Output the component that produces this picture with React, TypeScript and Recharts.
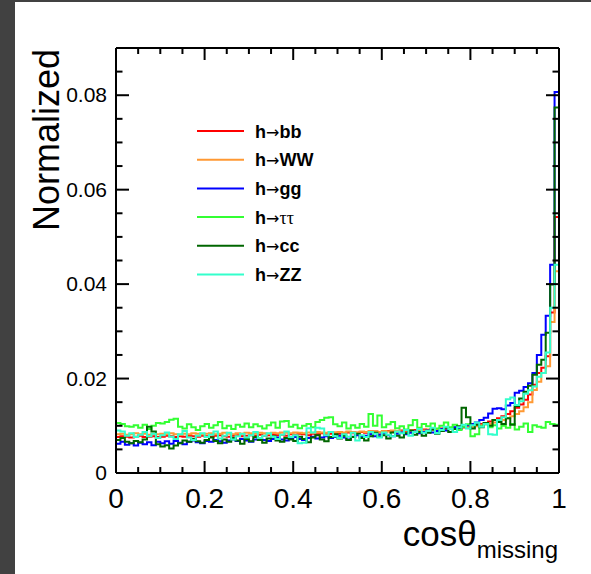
import { Legend, Line, LineChart, XAxis, YAxis } from "recharts";

const FONT = '"Liberation Sans", Arial, Helvetica, sans-serif';

// 100 equal bins on [0, 1]
const binEdges = Array.from({ length: 101 }, (_, i) => i / 100);

const xTicks = [0, 0.05, 0.1, 0.15, 0.2, 0.25, 0.3, 0.35, 0.4, 0.45, 0.5, 0.55, 0.6, 0.65, 0.7, 0.75, 0.8, 0.85, 0.9, 0.95, 1];
const xMajor = [0, 0.2, 0.4, 0.6, 0.8, 1];
const xLabels = ["0", "0.2", "0.4", "0.6", "0.8", "1"];

const yTicks = [0, 0.005, 0.01, 0.015, 0.02, 0.025, 0.03, 0.035, 0.04, 0.045, 0.05, 0.055, 0.06, 0.065, 0.07, 0.075, 0.08, 0.085, 0.09];
const yMajor = [0, 0.02, 0.04, 0.06, 0.08];
const yLabels = ["0", "0.02", "0.04", "0.06", "0.08"];

const hbb = [
  0.0076, 0.0078, 0.0077, 0.0075, 0.0077, 0.0079, 0.0076, 0.0077, 0.0078, 0.0076,
  0.0077, 0.0079, 0.0078, 0.0076, 0.0078, 0.0077, 0.0079, 0.0078, 0.0077, 0.0079,
  0.0078, 0.0077, 0.0079, 0.008, 0.0078, 0.0077, 0.0079, 0.008, 0.0078, 0.0079,
  0.008, 0.0079, 0.0081, 0.0079, 0.008, 0.0082, 0.008, 0.0081, 0.0079, 0.0082,
  0.0081, 0.0083, 0.0082, 0.008, 0.0083, 0.0082, 0.0084, 0.0082, 0.0083, 0.0085,
  0.0083, 0.0084, 0.0086, 0.0084, 0.0085, 0.0087, 0.0085, 0.0086, 0.0088, 0.0086,
  0.0087, 0.0089, 0.0087, 0.0088, 0.009, 0.0088, 0.009, 0.0091, 0.0089, 0.0092,
  0.0091, 0.0093, 0.0092, 0.0094, 0.0093, 0.0095, 0.0096, 0.0095, 0.0097, 0.0099,
  0.01, 0.0102, 0.0104, 0.0106, 0.0109, 0.0112, 0.0116, 0.012, 0.0125, 0.0131,
  0.0138, 0.0145, 0.0155, 0.0166, 0.0187, 0.0212, 0.0223, 0.0247, 0.034, 0.0542,
];

const hww = [
  0.0082, 0.0083, 0.0081, 0.0082, 0.0084, 0.0082, 0.0083, 0.0081, 0.0083, 0.0082,
  0.0083, 0.0082, 0.0084, 0.0082, 0.0081, 0.0083, 0.0082, 0.0084, 0.0083, 0.0082,
  0.0083, 0.0084, 0.0082, 0.0083, 0.0085, 0.0083, 0.0082, 0.0084, 0.0083, 0.0085,
  0.0084, 0.0083, 0.0085, 0.0084, 0.0083, 0.0085, 0.0084, 0.0086, 0.0085, 0.0084,
  0.0086, 0.0085, 0.0084, 0.0086, 0.0085, 0.0087, 0.0086, 0.0085, 0.0087, 0.0086,
  0.0087, 0.0086, 0.0088, 0.0087, 0.0086, 0.0088, 0.0087, 0.0089, 0.0088, 0.0087,
  0.0089, 0.0088, 0.009, 0.0089, 0.0088, 0.009, 0.0091, 0.0089, 0.0091, 0.009,
  0.0092, 0.0091, 0.0093, 0.0092, 0.0094, 0.0093, 0.0095, 0.0094, 0.0096, 0.0097,
  0.0098, 0.0099, 0.0101, 0.0103, 0.0104, 0.0107, 0.0109, 0.0112, 0.0116, 0.012,
  0.0125, 0.0131, 0.0139, 0.015, 0.0176, 0.0193, 0.0212, 0.0226, 0.032, 0.0427,
];

const hgg = [
  0.0062, 0.0066, 0.006, 0.0063, 0.0058, 0.0064, 0.0061, 0.0065, 0.0059, 0.0066,
  0.0063, 0.0067, 0.0062, 0.0068, 0.0064, 0.0061, 0.0066, 0.0069, 0.0065, 0.0063,
  0.0068, 0.0066, 0.007, 0.0067, 0.0064, 0.0069, 0.0071, 0.0068, 0.0072, 0.0069,
  0.0066, 0.0071, 0.0073, 0.007, 0.0068, 0.0072, 0.0075, 0.0071, 0.0069, 0.0073,
  0.0076, 0.0072, 0.007, 0.0074, 0.0077, 0.0073, 0.0075, 0.0078, 0.0074, 0.0076,
  0.0079, 0.0075, 0.0071, 0.0077, 0.008, 0.0076, 0.0079, 0.0082, 0.0078, 0.0081,
  0.0084, 0.008, 0.0078, 0.0083, 0.0086, 0.0082, 0.0085, 0.0088, 0.0084, 0.0087,
  0.009, 0.0086, 0.0089, 0.0093, 0.009, 0.0094, 0.0097, 0.0093, 0.0098, 0.0101,
  0.0104, 0.0107, 0.0112, 0.0117, 0.0126, 0.0136, 0.0137, 0.0135, 0.0143, 0.0148,
  0.017, 0.0174, 0.0182, 0.019, 0.0212, 0.025, 0.0293, 0.0333, 0.0441, 0.0807,
];

const htt = [
  0.0106, 0.0104, 0.0099, 0.0098, 0.0101, 0.0096, 0.0102, 0.0093, 0.01, 0.0106,
  0.0105, 0.0108, 0.0113, 0.0115, 0.0098, 0.0094, 0.0103, 0.0097, 0.0091, 0.0099,
  0.0104, 0.0096, 0.0101, 0.0108, 0.0095, 0.01, 0.0093, 0.0102, 0.0098, 0.0105,
  0.0097, 0.0103, 0.0099, 0.0094, 0.0101, 0.0107, 0.0096, 0.0109, 0.011, 0.0098,
  0.0102, 0.0095, 0.01, 0.0104, 0.0097, 0.0108, 0.0112, 0.0117, 0.0118, 0.0103,
  0.0099, 0.0107, 0.0094, 0.0101, 0.0096, 0.0104, 0.0098, 0.0125, 0.01, 0.0122,
  0.0097, 0.0103, 0.0108, 0.0095, 0.0099, 0.0092, 0.0101, 0.0112, 0.0096, 0.0104,
  0.0099, 0.0105, 0.0094, 0.01, 0.0107, 0.0097, 0.0102, 0.0091, 0.0098, 0.0103,
  0.0078, 0.0082, 0.0099, 0.0103, 0.0097, 0.0101, 0.0094, 0.01, 0.0096, 0.0104,
  0.0092, 0.0098, 0.0105, 0.0087, 0.0101, 0.0098, 0.0096, 0.0108, 0.0104, 0.0102,
];

const hcc = [
  0.007, 0.0074, 0.0066, 0.0063, 0.0068, 0.0065, 0.0071, 0.0098, 0.0088, 0.0061,
  0.0056, 0.0059, 0.0052, 0.0058, 0.0063, 0.0069, 0.0066, 0.0072, 0.0067, 0.0064,
  0.007, 0.0075, 0.0068, 0.0063, 0.0071, 0.0066, 0.0074, 0.0069, 0.0062, 0.0072,
  0.0067, 0.0076, 0.007, 0.0064, 0.0073, 0.0078, 0.0069, 0.0066, 0.0074, 0.0071,
  0.0068, 0.0077, 0.0072, 0.0065, 0.0075, 0.008, 0.0071, 0.0067, 0.0076, 0.0082,
  0.0073, 0.0079, 0.007, 0.0076, 0.0083, 0.0074, 0.0069, 0.0078, 0.0085, 0.0077,
  0.008, 0.0073, 0.0086, 0.0079, 0.0075, 0.0084, 0.009, 0.0081, 0.0087, 0.0079,
  0.0085, 0.0092, 0.0083, 0.0089, 0.0096, 0.0087, 0.0093, 0.0099, 0.0138, 0.0118,
  0.0094, 0.0102, 0.0097, 0.0106, 0.01, 0.0112, 0.0108, 0.0104, 0.0116, 0.0102,
  0.0142, 0.0158, 0.0172, 0.0185, 0.0208, 0.0229, 0.024, 0.0297, 0.0399, 0.0774,
];

const hzz = [
  0.009, 0.0088, 0.0079, 0.0084, 0.0076, 0.0081, 0.0087, 0.0078, 0.0083, 0.0074,
  0.008, 0.0086, 0.0077, 0.0072, 0.0082, 0.0089, 0.0075, 0.007, 0.0079, 0.0084,
  0.0076, 0.0081, 0.0088, 0.0073, 0.0079, 0.0085, 0.0071, 0.0078, 0.0083, 0.0075,
  0.008, 0.0087, 0.0074, 0.0079, 0.0084, 0.0077, 0.0072, 0.0081, 0.0088, 0.0076,
  0.008, 0.0063, 0.0064, 0.0095, 0.0086, 0.0096, 0.0094, 0.008, 0.0087, 0.0078,
  0.0074, 0.0082, 0.0077, 0.0085, 0.0069, 0.008, 0.0076, 0.0087, 0.0083, 0.0075,
  0.0086, 0.0081, 0.0078, 0.0088, 0.0084, 0.0091, 0.0079, 0.0087, 0.0093, 0.0085,
  0.0089, 0.0096, 0.0084, 0.0091, 0.0098, 0.0093, 0.0087, 0.0097, 0.0102, 0.0094,
  0.0101, 0.0107, 0.0098, 0.0104, 0.0082, 0.0081, 0.0112, 0.0118, 0.0156, 0.016,
  0.0144, 0.0152, 0.0168, 0.0175, 0.0183, 0.0204, 0.0212, 0.0255, 0.035, 0.0441,
];

const series = [
  { key: "bb", name: "bb", color: "#ff0000", values: hbb },
  { key: "ww", name: "WW", color: "#ff9933", values: hww },
  { key: "gg", name: "gg", color: "#0000ff", values: hgg },
  { key: "tt", name: "ττ", color: "#33ff33", values: htt },
  { key: "cc", name: "cc", color: "#006600", values: hcc },
  { key: "zz", name: "ZZ", color: "#33ffcc", values: hzz },
];

// step outline: drop to zero at both outer edges, like a ROOT HIST draw
function buildRows() {
  const zero: Record<string, number> = {};
  series.forEach((s) => (zero[s.key] = 0));
  const rows: Record<string, number>[] = [{ x: binEdges[0], ...zero }];
  for (let i = 0; i < 100; i++) {
    const row: Record<string, number> = { x: binEdges[i] };
    series.forEach((s) => (row[s.key] = s.values[i]));
    rows.push(row);
  }
  const last: Record<string, number> = { x: binEdges[100] };
  series.forEach((s) => (last[s.key] = s.values[99]));
  rows.push(last);
  rows.push({ x: binEdges[100], ...zero });
  return rows;
}

const rows = buildRows();

function labelOf(majors: number[], labels: string[], v: number) {
  const i = majors.findIndex((m) => Math.abs(m - v) < 1e-9);
  return i < 0 ? null : labels[i];
}

function BottomTick(props: any) {
  const { x, y, payload } = props;
  const lab = labelOf(xMajor, xLabels, payload.value);
  return (
    <g>
      <line x1={x} x2={x} y1={y} y2={y - (lab ? 12 : 6)} stroke="#000" strokeWidth={2} />
      {lab ? (
        <text x={x} y={y + 35} textAnchor="middle" fontSize={28} fontFamily={FONT} fill="#000">
          {lab}
        </text>
      ) : null}
    </g>
  );
}

function TopTick(props: any) {
  const { x, y, payload } = props;
  const lab = labelOf(xMajor, xLabels, payload.value);
  return <line x1={x} x2={x} y1={y} y2={y + (lab ? 12 : 6)} stroke="#000" strokeWidth={2} />;
}

function LeftTick(props: any) {
  const { x, y, payload } = props;
  const lab = labelOf(yMajor, yLabels, payload.value);
  return (
    <g>
      <line x1={x} x2={x + (lab ? 13 : 6.5)} y1={y} y2={y} stroke="#000" strokeWidth={2} />
      {lab ? (
        <text x={x - 9} y={y + 7} textAnchor="end" fontSize={21} fontFamily={FONT} fill="#000">
          {lab}
        </text>
      ) : null}
    </g>
  );
}

function RightTick(props: any) {
  const { x, y, payload } = props;
  const lab = labelOf(yMajor, yLabels, payload.value);
  return <line x1={x} x2={x - (lab ? 13 : 6.5)} y1={y} y2={y} stroke="#000" strokeWidth={2} />;
}

function LegendBox() {
  return (
    <svg width={180} height={180}>
      {series.map((s, i) => {
        const cy = 21 + i * 28.7;
        return (
          <g key={s.key}>
            <line x1={7} x2={54} y1={cy} y2={cy} stroke={s.color} strokeWidth={2} />
            <text x={65} y={cy + 6.5} fontSize={18} fontWeight="bold" fontFamily={FONT} fill="#000">
              h
              <tspan fontWeight="normal" fontFamily='"DejaVu Sans", sans-serif' fontSize={16}>
                →
              </tspan>
              {s.key === "tt" ? (
                <tspan fontWeight="normal" fontFamily='"Liberation Serif", "DejaVu Serif", serif'>
                  {s.name}
                </tspan>
              ) : (
                s.name
              )}
            </text>
          </g>
        );
      })}
    </svg>
  );
}

const axisLine = { stroke: "#000", strokeWidth: 2 };

export default function App() {
  return (
    <div style={{ position: "absolute", left: 0, top: 0, width: 591, height: 574, background: "#fff", overflow: "hidden" }}>
      <style>{"html,body{margin:0;overflow:hidden;background:#fff}"}</style>
      <div style={{ position: "absolute", left: 0, top: 0, width: 15, height: 574, background: "#414141" }} />
      <div style={{ position: "absolute", left: 0, top: 0, width: 591, height: 2, background: "#414141" }} />
      <div style={{ position: "absolute", left: 0, top: 0 }}>
        <LineChart width={591} height={574} data={rows} margin={{ top: 18, right: 12, bottom: 71, left: 56 }}>
          <XAxis
            xAxisId="bottom"
            dataKey="x"
            type="number"
            domain={[0, 1]}
            ticks={xTicks}
            interval={0}
            height={30}
            tickSize={0}
            tickMargin={0}
            tickLine={false}
            axisLine={axisLine}
            tick={BottomTick}
            allowDataOverflow
          />
          <XAxis
            xAxisId="top"
            orientation="top"
            dataKey="x"
            type="number"
            domain={[0, 1]}
            ticks={xTicks}
            interval={0}
            height={30}
            tickSize={0}
            tickMargin={0}
            tickLine={false}
            axisLine={axisLine}
            tick={TopTick}
            allowDataOverflow
          />
          <YAxis
            yAxisId="left"
            type="number"
            domain={[0, 0.09]}
            ticks={yTicks}
            interval={0}
            width={60}
            tickSize={0}
            tickMargin={0}
            tickLine={false}
            axisLine={axisLine}
            tick={LeftTick}
            allowDataOverflow
          />
          <YAxis
            yAxisId="right"
            orientation="right"
            type="number"
            domain={[0, 0.09]}
            ticks={yTicks}
            interval={0}
            width={20}
            tickSize={0}
            tickMargin={0}
            tickLine={false}
            axisLine={axisLine}
            tick={RightTick}
            allowDataOverflow
          />
          <Legend
            layout="horizontal"
            verticalAlign="middle"
            align="center"
            content={LegendBox}
            wrapperStyle={{ left: 190, top: 110, width: 180, height: 180 }}
          />
          {series.map((s) => (
            <Line
              key={s.key}
              xAxisId="bottom"
              yAxisId="left"
              dataKey={s.key}
              type="stepAfter"
              stroke={s.color}
              strokeWidth={2}
              dot={false}
              activeDot={false}
              isAnimationActive={false}
            />
          ))}
        </LineChart>
      </div>
      <svg width={591} height={574} style={{ position: "absolute", left: 0, top: 0, pointerEvents: "none" }}>
        <text transform="translate(59,140) rotate(-90)" textAnchor="middle" fontSize={36} fontFamily={FONT} fill="#000">
          Normalized
        </text>
        <text x={558} y={546} textAnchor="end" fontFamily={FONT} fill="#000">
          <tspan fontSize={35}>cosθ</tspan>
          <tspan fontSize={24} dy={12}>
            missing
          </tspan>
        </text>
      </svg>
    </div>
  );
}
